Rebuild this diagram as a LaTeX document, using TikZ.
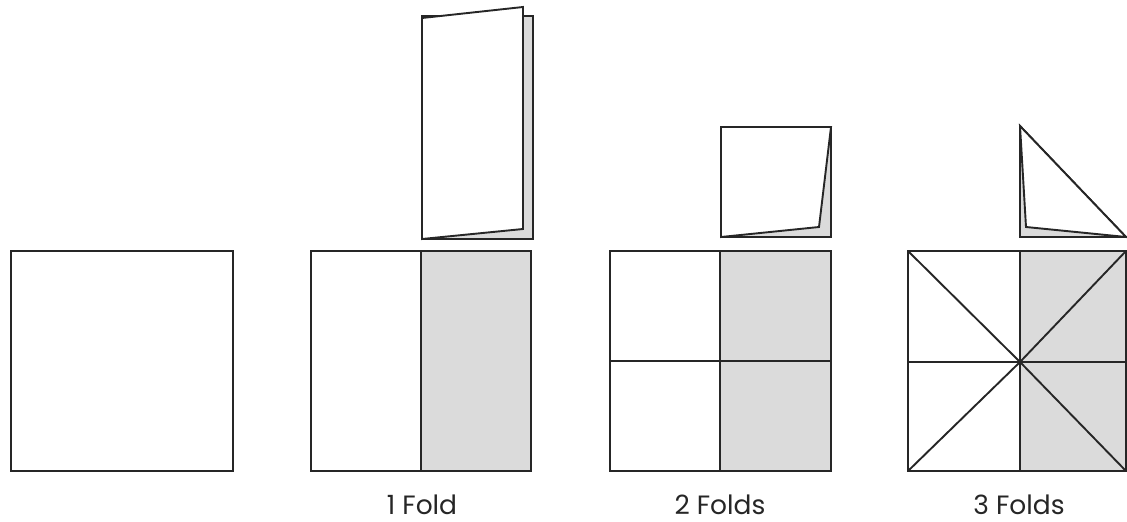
\documentclass[tikz,border=0pt]{standalone}
\usepackage{fontspec}
\setmainfont{Poppins}
\begin{document}
\begin{tikzpicture}[x=1pt,y=-1pt,
  edge/.style={draw=black!85,line width=1.9pt,line join=miter},
  shade/.style={fill=black!14},
  sheet/.style={fill=white},
  lbl/.style={anchor=base,inner sep=0pt,font=\fontsize{26.5}{30}\selectfont,text=black!85}]
\useasboundingbox (0,0) rectangle (1127,522);
% --- square 1 ---
\draw[edge,fill=white] (11,251) rectangle (233,471);
% --- square 2 (1 fold) ---
\fill[shade] (421,251) rectangle (531,471);
\draw[edge] (311,251) rectangle (531,471);
\draw[edge] (421,251) -- (421,471);
% folded 1
\draw[edge,shade] (422,16) rectangle (533,239);
\draw[edge,sheet] (422,18) -- (523,7) -- (523,229) -- (422,239) -- cycle;
% --- square 3 (2 folds) ---
\fill[shade] (720,251) rectangle (831,471);
\draw[edge] (610,251) rectangle (831,471);
\draw[edge] (720,251) -- (720,471);
\draw[edge] (610,361) -- (831,361);
% folded 2
\draw[edge,shade] (721,127) rectangle (831,237);
\draw[edge,sheet] (721,127) -- (831,127) -- (819,227) -- (721,237) -- cycle;
% --- square 4 (3 folds) ---
\coordinate (c) at (1020,362);
\fill[shade] (1020,251) rectangle (1126,471);
\draw[edge] (908,251) rectangle (1126,471);
\draw[edge] (1020,251) -- (1020,471);
\draw[edge] (908,362) -- (1126,362);
\draw[edge] (908,251) -- (c) -- (1126,471);
\draw[edge] (908,471) -- (c) -- (1126,251);
% folded 3
\draw[edge,shade] (1020,126) -- (1020,237) -- (1126,237) -- cycle;
\draw[edge,sheet] (1020,126) -- (1026,227) -- (1126,237) -- cycle;
% labels
\node[lbl] (l1) at (422,514) {1 Fold};
\node[lbl] (l2) at (720,514) {2 Folds};
\node[lbl] (l3) at (1019,514) {3 Folds};
\end{tikzpicture}
\end{document}
